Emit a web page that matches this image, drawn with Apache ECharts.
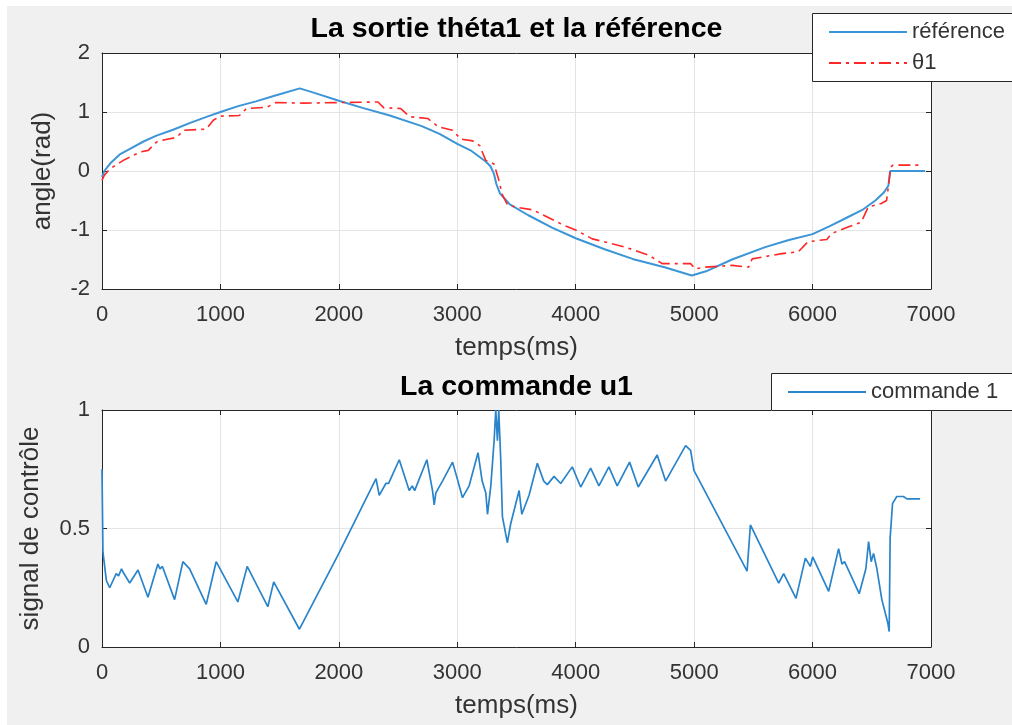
<!DOCTYPE html>
<html><head><meta charset="utf-8">
<script src="https://cdn.jsdelivr.net/npm/echarts@6/dist/echarts.min.js"></script>
<style>html,body{margin:0;padding:0;background:#fff}#c{width:1012px;height:725px}</style>
</head><body><div id="c"></div>
<script>
// ---------- data ----------
const xMin = 0, xMax = 7000, xStep = 1000;
const topYMin = -2, topYMax = 2, topYStep = 1;
const botYMin = 0, botYMax = 1, botYStep = 0.5;

const titleTop = 'La sortie théta1 et la référence';
const titleBottom = 'La commande u1';
const xLabel = 'temps(ms)';
const yLabelTop = 'angle(rad)';
const yLabelBottom = 'signal de contrôle';
const seriesNames = ['référence', 'θ1', 'commande 1'];

// reference (blue, top)
const refT = [0,20,70,150,240,350,460,600,750,900,
  1000,1150,1300,1450,1670,1800,2000,2200,2430,2700,
  2850,3000,3120,3240,3280,3310,3330,3360,3440,3600,
  3800,4000,4250,4480,4750,4980,5100,5320,5600,5800,
  6000,6150,6300,6420,6530,6600,6640,6655,6950];
const refV = [-0.1,0.0,0.13,0.28,0.38,0.5,0.6,0.7,0.82,0.93,
  1.0,1.1,1.18,1.27,1.4,1.32,1.19,1.07,0.94,0.76,
  0.63,0.46,0.34,0.16,0.08,-0.05,-0.22,-0.38,-0.56,-0.75,
  -0.96,-1.14,-1.33,-1.49,-1.63,-1.77,-1.7,-1.5,-1.29,-1.17,
  -1.07,-0.93,-0.78,-0.66,-0.5,-0.37,-0.25,0,0];

// theta1 (red dash-dot, top)
const thetaT = [0,20,70,180,320,390,460,530,630,690,
  880,940,1000,1160,1220,1390,1470,1700,2000,2330,
  2380,2520,2600,2750,2840,2960,3030,3130,3190,3240,
  3310,3350,3380,3425,3520,3640,3900,4000,4140,4420,
  4620,4730,4970,5010,5090,5320,5460,5490,5740,5880,
  5960,6120,6160,6300,6410,6470,6580,6625,6640,6660,
  6680,6905];
const thetaV = [-0.16,-0.07,0.04,0.18,0.32,0.35,0.49,0.53,0.57,0.69,
  0.71,0.86,0.93,0.94,1.06,1.08,1.16,1.15,1.16,1.17,
  1.07,1.06,0.92,0.89,0.75,0.69,0.54,0.51,0.43,0.18,
  0.12,-0.15,-0.4,-0.58,-0.62,-0.66,-0.92,-1.0,-1.15,-1.29,
  -1.43,-1.57,-1.57,-1.66,-1.63,-1.6,-1.63,-1.49,-1.4,-1.37,
  -1.2,-1.16,-1.06,-0.95,-0.87,-0.61,-0.55,-0.5,-0.27,0.07,
  0.1,0.1];

// command u1 (blue, bottom)
const uT = [0,8,37,65,120,140,165,185,234,304,
  388,472,490,510,613,683,740,880,950,964,
  1147,1226,1400,1450,1667,2000,2314,2341,2397,2420,
  2510,2594,2620,2640,2743,2791,2805,2819,2875,2960,
  3000,3044,3100,3175,3210,3241,3255,3283,3311,3325,
  3339,3350,3367,3381,3423,3451,3522,3545,3606,3676,
  3730,3760,3817,3873,3971,4042,4126,4196,4280,4350,
  4455,4528,4688,4759,4928,4970,4998,5447,5475,5714,
  5756,5860,5939,5981,6001,6136,6220,6248,6270,6394,
  6450,6473,6495,6515,6543,6585,6636,6647,6655,6675,
  6711,6767,6796,6908];
const uV = [0.75,0.4,0.28,0.25,0.31,0.3,0.33,0.31,0.27,0.325,
  0.21,0.35,0.33,0.34,0.2,0.36,0.33,0.18,0.33,0.36,
  0.19,0.34,0.17,0.275,0.075,0.395,0.71,0.64,0.69,0.69,
  0.79,0.66,0.68,0.66,0.79,0.66,0.6,0.65,0.7,0.78,
  0.71,0.63,0.68,0.82,0.7,0.65,0.56,0.68,0.87,1.0,
  0.87,1.0,0.79,0.55,0.44,0.52,0.66,0.56,0.64,0.775,
  0.7,0.685,0.72,0.69,0.76,0.675,0.755,0.68,0.76,0.68,
  0.78,0.675,0.81,0.70,0.85,0.83,0.745,0.32,0.515,0.27,
  0.31,0.205,0.375,0.34,0.38,0.235,0.415,0.35,0.36,0.225,
  0.33,0.445,0.36,0.395,0.33,0.2,0.1,0.065,0.46,0.605,
  0.635,0.635,0.625,0.625];

// ---------- chart ----------
const pairs = (t, v) => t.map((x, i) => [x, v[i]]);
const FONT = "'Liberation Sans', Arial, sans-serif";
const AX = '#262626';
const GRIDC = '#e4e4e4';
const plain = v => String(v);

function xAxes(gi) {
  return [
    { gridIndex: gi, type: 'value', position: 'bottom', min: xMin, max: xMax, interval: xStep,
      axisLine: { onZero: false, lineStyle: { color: AX, width: 1 } },
      axisTick: { inside: true, length: 5, lineStyle: { color: AX } },
      axisLabel: { margin: 15, fontSize: 22, color: '#333', fontFamily: FONT, formatter: plain },
      splitLine: { show: true, lineStyle: { color: GRIDC, width: 1 } },
      name: xLabel, nameLocation: 'middle', nameGap: 46,
      nameTextStyle: { fontSize: 26, color: '#333', fontFamily: FONT } },
    { gridIndex: gi, type: 'value', position: 'top', min: xMin, max: xMax, interval: xStep,
      axisLine: { onZero: false, lineStyle: { color: AX, width: 1 } },
      axisTick: { inside: true, length: 5, lineStyle: { color: AX } },
      axisLabel: { show: false }, splitLine: { show: false } }
  ];
}
function yAxes(gi, mn, mx, st, name, gap) {
  return [
    { gridIndex: gi, type: 'value', position: 'left', min: mn, max: mx, interval: st,
      axisLine: { onZero: false, lineStyle: { color: AX, width: 1 } },
      axisTick: { inside: true, length: 5, lineStyle: { color: AX } },
      axisLabel: { margin: 12, fontSize: 22, color: '#333', fontFamily: FONT, formatter: plain },
      splitLine: { show: true, lineStyle: { color: GRIDC, width: 1 } },
      name: name, nameLocation: 'middle', nameGap: gap,
      nameTextStyle: { fontSize: 26, color: '#333', fontFamily: FONT } },
    { gridIndex: gi, type: 'value', position: 'right', min: mn, max: mx, interval: st,
      axisLine: { onZero: false, lineStyle: { color: AX, width: 1 } },
      axisTick: { inside: true, length: 5, lineStyle: { color: AX } },
      axisLabel: { show: false }, splitLine: { show: false } }
  ];
}
function legendOf(names, left, top) {
  return { data: names, orient: 'vertical', left: left, top: top,
    padding: [7, 80, 7, 16], itemWidth: 78, itemHeight: 14, itemGap: 7,
    backgroundColor: '#fff', borderWidth: 0, borderRadius: 0,
    itemStyle: { opacity: 0 }, selectedMode: false, align: 'left',
    textStyle: { fontSize: 22, lineHeight: 24, color: '#333', fontFamily: FONT } };
}
// legend frames run off the right edge of the figure, as in the reference
function frame(l, t, b) {
  return { type: 'polyline', shape: { points: [[1020, t], [l, t], [l, b], [1020, b]] },
    style: { stroke: AX, lineWidth: 1, fill: null }, z: 10, silent: true };
}

const chart = echarts.init(document.getElementById('c'), null, { renderer: 'canvas' });
chart.setOption({
  animation: false,
  backgroundColor: '#ffffff',
  graphic: [
    { type: 'rect', left: 7, top: 6, shape: { width: 1005, height: 719 },
      style: { fill: '#f0f0f0' }, z: -100, silent: true },
    frame(812.5, 13.5, 81.5),
    frame(771.5, 373.5, 410.5)
  ],
  title: [
    { text: titleTop, left: 516.5, top: 15, textAlign: 'center', padding: 0,
      textStyle: { fontSize: 28.5, fontWeight: 'bold', color: '#000', fontFamily: FONT } },
    { text: titleBottom, left: 516.5, top: 373, textAlign: 'center', padding: 0,
      textStyle: { fontSize: 28.5, fontWeight: 'bold', color: '#000', fontFamily: FONT } }
  ],
  grid: [
    { left: 102, top: 53, width: 829, height: 236, show: true, backgroundColor: '#fff', borderWidth: 0 },
    { left: 102, top: 410, width: 829, height: 237, show: true, backgroundColor: '#fff', borderWidth: 0 }
  ],
  xAxis: [...xAxes(0), ...xAxes(1)],
  yAxis: [...yAxes(0, topYMin, topYMax, topYStep, yLabelTop, 46),
          ...yAxes(1, botYMin, botYMax, botYStep, yLabelBottom, 58)],
  legend: [legendOf([seriesNames[0], seriesNames[1]], 812, 13),
           legendOf([seriesNames[2]], 771, 373)],
  series: [
    { name: seriesNames[0], type: 'line', xAxisIndex: 0, yAxisIndex: 0, data: pairs(refT, refV),
      symbol: 'none', color: '#3b95d7', lineStyle: { color: '#3b95d7', width: 2 }, z: 2 },
    { name: seriesNames[1], type: 'line', xAxisIndex: 0, yAxisIndex: 0, data: pairs(thetaT, thetaV),
      symbol: 'none', color: '#ff2626', lineStyle: { color: '#ff2626', width: 1.6, type: [12, 5, 3, 5] }, z: 3 },
    { name: seriesNames[2], type: 'line', xAxisIndex: 2, yAxisIndex: 2, data: pairs(uT, uV),
      symbol: 'none', color: '#2a84ca', lineStyle: { color: '#2a84ca', width: 1.7 }, z: 2 }
  ]
});
</script></body></html>
